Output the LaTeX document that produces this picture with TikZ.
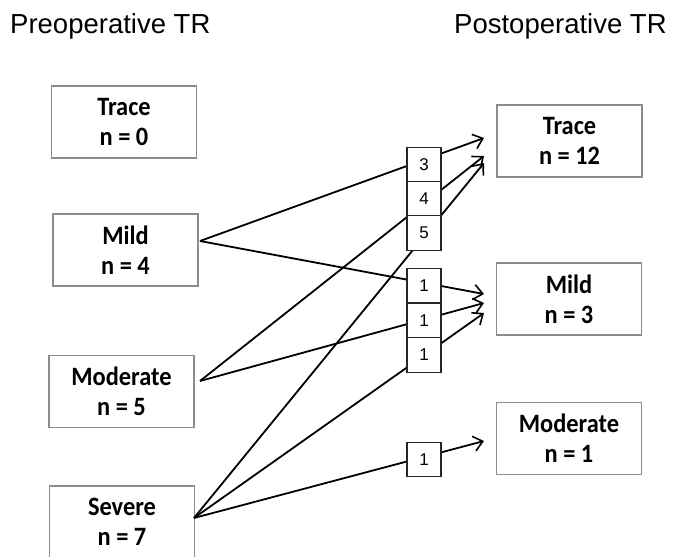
\documentclass[tikz,border=0pt]{standalone}
\usepackage{fontspec}
\usetikzlibrary{arrows.meta}
\newfontfamily\titlefont{Liberation Sans}
\newfontfamily\boxfont{Carlito}[FakeStretch=0.92]
\newfontfamily\numfont{Liberation Sans}
\begin{document}
\begin{tikzpicture}[x=1pt,y=-1pt,
  bigbox/.style={draw=black!45, line width=1.1pt, minimum width=145pt, minimum height=72pt,
    inner sep=0pt, align=center, font=\boxfont\bfseries\fontsize{26.5}{30}\selectfont},
  numbox/.style={draw=black!85, fill=white, line width=1.1pt, minimum width=34pt, minimum height=34.5pt,
    inner sep=0pt, font=\numfont\fontsize{17}{19}\selectfont},
  flow/.style={line width=1.8pt, -{Straight Barb[length=9pt,width=15pt,line width=1.6pt]}},
  title/.style={anchor=base west, inner sep=0pt, font=\titlefont\fontsize{27.5}{30}\selectfont}]
\clip (0,0) rectangle (684,556);
\fill[white] (0,0) rectangle (684,556);
% titles
\node[title] (pre) at (10,34) {Preoperative TR};
\node[title] (post) at (454,34) {Postoperative TR};
% left boxes
\node[bigbox] (traceL) at (124,122) {Trace\\n = 0};
\node[bigbox] (mildL) at (125.5,250) {Mild\\n = 4};
\node[bigbox] (modL) at (121.5,391.5) {Moderate\\n = 5};
\node[bigbox] (sevL) at (122,522) {Severe\\n = 7};
% right boxes
\node[bigbox] (traceR) at (569.5,141) {Trace\\n = 12};
\node[bigbox] (mildR) at (569,299) {Mild\\n = 3};
\node[bigbox] (modR) at (569,438.5) {Moderate\\n = 1};
% connector ends
\coordinate (mildO) at (200,241);
\coordinate (modO) at (200,381);
\coordinate (sevO) at (194,518);
\coordinate (tr1) at (484,138);
\coordinate (tr2) at (484,156);
\coordinate (tr3) at (484,163);
\coordinate (mi1) at (484,294);
\coordinate (mi2) at (484,303);
\coordinate (mi3) at (484,313);
\coordinate (mo1) at (484,441);
% connectors
\draw[flow] (mildO) -- (tr1);
\draw[flow] (modO) -- (tr2);
\draw[flow] (sevO) -- (tr3);
\draw[flow] (mildO) -- (mi1);
\draw[flow] (modO) -- (mi2);
\draw[flow] (sevO) -- (mi3);
\draw[flow] (sevO) -- (mo1);
% count boxes
\node[numbox] (c3) at (424,164.5) {3};
\node[numbox] (c4) at (424,199) {4};
\node[numbox] (c5) at (424,233) {5};
\node[numbox] (c1a) at (424,285.5) {1};
\node[numbox] (c1b) at (424,320.5) {1};
\node[numbox] (c1c) at (424,355) {1};
\node[numbox] (c1d) at (424,459.5) {1};
\end{tikzpicture}
\end{document}
